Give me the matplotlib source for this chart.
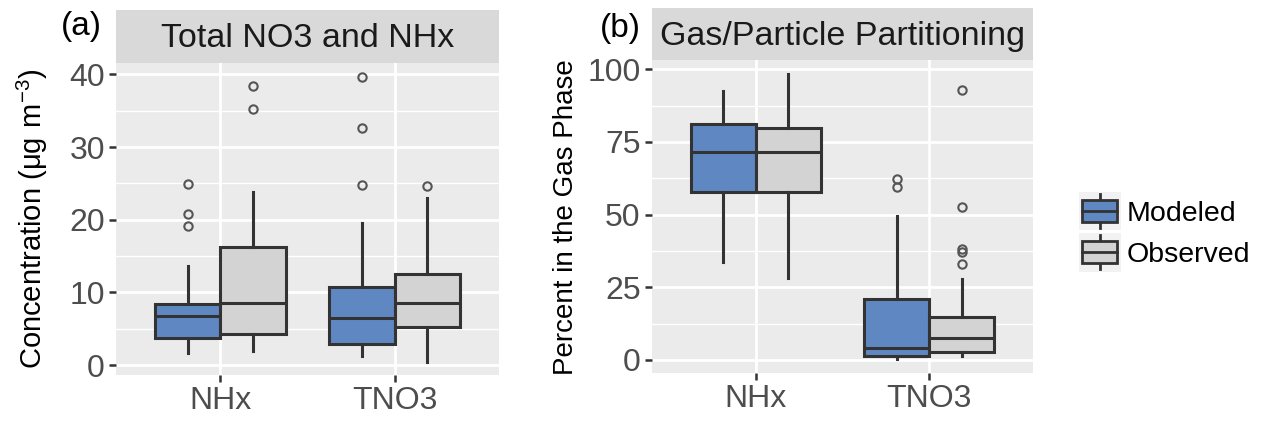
import matplotlib
matplotlib.use("Agg")
import matplotlib.pyplot as plt
from matplotlib.patches import Rectangle
from matplotlib.lines import Line2D
from matplotlib.legend_handler import HandlerBase

plt.rcParams['font.family'] = ['Liberation Sans', 'DejaVu Sans']

# ---------------- data ----------------
categories = ["NHx", "TNO3"]
series = ["Modeled", "Observed"]
colors = {"Modeled": "#5F88C2", "Observed": "#D3D3D3"}

# panel (a): Total NO3 and NHx concentration  [whislo, q1, med, q3, whishi]
conc_modeled = {"NHx": [1.65, 3.7, 6.7, 8.4, 13.7], "TNO3": [1.2, 2.9, 6.5, 10.7, 19.5]}
conc_observed = {"NHx": [1.9, 4.3, 8.6, 16.2, 23.8], "TNO3": [0.5, 5.2, 8.5, 12.6, 23.0]}
conc_out_modeled = {"NHx": [24.9, 20.8, 19.2], "TNO3": [39.7, 32.6, 24.8]}
conc_out_observed = {"NHx": [38.4, 35.2], "TNO3": [24.7]}

# panel (b): percent in gas phase
gas_modeled = {"NHx": [33.8, 57.7, 71.4, 81.2, 92.5], "TNO3": [0.2, 1.4, 4.0, 20.9, 49.5]}
gas_observed = {"NHx": [28.2, 57.7, 71.7, 79.7, 98.3], "TNO3": [1.2, 2.9, 7.7, 14.6, 27.8]}
gas_out_modeled = {"NHx": [], "TNO3": [62.2, 59.6]}
gas_out_observed = {"NHx": [], "TNO3": [92.9, 52.5, 38.1, 37.3, 32.9]}

yticks_a = [0, 10, 20, 30, 40]
yticks_b = [0, 25, 50, 75, 100]

W, H = 1272, 424
fig = plt.figure(figsize=(W / 100, H / 100), dpi=100)

EDGE = "#333333"
TXT = "#4D4D4D"
PT = 0.72  # points per pixel at dpi 100


def px_axes(x0, y0, x1, y1):
    return fig.add_axes([x0 / W, 1 - y1 / H, (x1 - x0) / W, (y1 - y0) / H])


def make_stats(vals, outs):
    lo, q1, med, q3, hi = vals
    return dict(whislo=lo, q1=q1, med=med, q3=q3, whishi=hi, fliers=outs)


def panel(ax, mod, obs, out_mod, out_obs, yticks, ylim, ylabel, labelpad, labelsize):
    ax.set_facecolor("#EBEBEB")
    for s in ax.spines.values():
        s.set_visible(False)
    width = 0.375
    for key, offs, d, o in [("Modeled", -width / 2, mod, out_mod), ("Observed", width / 2, obs, out_obs)]:
        stats = [make_stats(d[c], o[c]) for c in categories]
        pos = [i + 1 + offs for i in range(len(categories))]
        ax.bxp(stats, positions=pos, widths=width, patch_artist=True, showcaps=False,
               boxprops=dict(facecolor=colors[key], edgecolor=EDGE, linewidth=2.2),
               medianprops=dict(color=EDGE, linewidth=2.2),
               whiskerprops=dict(color=EDGE, linewidth=2.2),
               flierprops=dict(marker="o", markerfacecolor="none", markeredgecolor="#555555",
                               markersize=6, markeredgewidth=1.5),
               zorder=3)
    ax.set_xlim(0.4, 2.6)
    ax.set_ylim(*ylim)
    ax.set_xticks([1, 2])
    ax.set_xticklabels(categories)
    ax.set_yticks(yticks)
    minor = [(yticks[i] + yticks[i + 1]) / 2 for i in range(len(yticks) - 1)]
    ax.set_yticks(minor, minor=True)
    ax.grid(True, which="major", color="white", linewidth=2.0, zorder=0)
    ax.grid(True, which="minor", axis="y", color="white", linewidth=1.0, zorder=0)
    ax.set_axisbelow(True)
    ax.tick_params(axis="both", which="major", length=5, width=1.8, color=EDGE,
                   labelsize=23, labelcolor=TXT, pad=3)
    ax.tick_params(axis="both", which="minor", length=0)
    ax.set_ylabel(ylabel, fontsize=labelsize, color="black", labelpad=labelpad)


# panel a
axa = px_axes(116, 62.7, 499, 375)
panel(axa, conc_modeled, conc_observed, conc_out_modeled, conc_out_observed,
      yticks_a, (-1.35, 41.6), r"Concentration ($\mathregular{\mu g\ m^{-3}}$)", 14, 21)
# panel b
axb = px_axes(651.7, 60, 1033, 373.3)
panel(axb, gas_modeled, gas_observed, gas_out_modeled, gas_out_observed,
      yticks_b, (-4.6, 103.2), "Percent in the Gas Phase", 6, 20)

# strips
for (x0, y0, x1, y1, title) in [(116, 10, 499, 62.7, "Total NO3 and NHx"),
                                (651.7, 8, 1033, 60, "Gas/Particle Partitioning")]:
    sa = px_axes(x0, y0, x1, y1)
    sa.set_facecolor("#D9D9D9")
    sa.set_xticks([]); sa.set_yticks([])
    for s in sa.spines.values():
        s.set_visible(False)
    sa.text(0.5, 0.45, title, ha="center", va="center", fontsize=24.5, color="#1A1A1A",
            transform=sa.transAxes)

fig.text(81 / W, 1 - 26 / H, "(a)", ha="center", va="center", fontsize=24, color="black")
fig.text(620 / W, 1 - 28 / H, "(b)", ha="center", va="center", fontsize=24, color="black")


# legend
class BoxHandler(HandlerBase):
    def __init__(self, color):
        super().__init__()
        self.color = color

    def create_artists(self, legend, orig_handle, xdescent, ydescent, width, height, fontsize, trans):
        x0, y0 = -xdescent, -ydescent
        bg = Rectangle((x0 - 3.5 * PT, y0 - 8.5 * PT), width + 7 * PT, height + 17 * PT,
                       facecolor="#F2F2F2", edgecolor="none", transform=trans)
        cx = x0 + width / 2
        w1 = Line2D([cx, cx], [y0 - 6 * PT, y0], color=EDGE, lw=2.0, transform=trans)
        w2 = Line2D([cx, cx], [y0 + height, y0 + height + 6 * PT], color=EDGE, lw=2.0, transform=trans)
        box = Rectangle((x0, y0), width, height, facecolor=self.color,
                        edgecolor=EDGE, lw=2.0, transform=trans)
        med = Line2D([x0, x0 + width], [y0 + height / 2] * 2, color=EDGE,
                     lw=2.0, transform=trans)
        return [bg, w1, w2, box, med]


LFS = 20.5
handles = [Rectangle((0, 0), 1, 1, facecolor=colors[s]) for s in series]
fig.legend(handles, series, loc="center left", bbox_to_anchor=(1082 / W, 1 - 234 / H),
           frameon=False, fontsize=LFS, handlelength=35 * PT / LFS, handleheight=23 * PT / LFS,
           labelspacing=0.5, handletextpad=0.35, borderpad=0, borderaxespad=0,
           handler_map={handles[0]: BoxHandler(colors["Modeled"]),
                        handles[1]: BoxHandler(colors["Observed"])})

fig.savefig("out.png", dpi=100, facecolor="white")
